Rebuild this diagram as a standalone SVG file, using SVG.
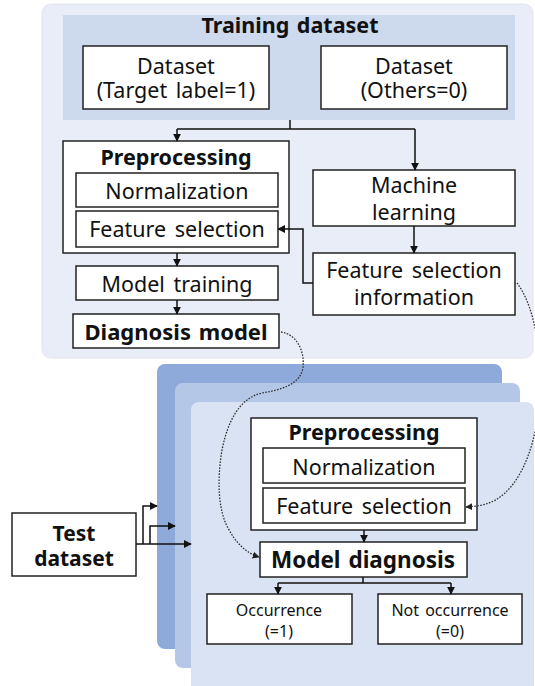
<svg xmlns="http://www.w3.org/2000/svg" width="535" height="686" viewBox="0 0 535 686">
  <defs>
    <marker id="ah" viewBox="0 0 10 10" refX="9" refY="5" markerWidth="8" markerHeight="8" markerUnits="userSpaceOnUse" orient="auto">
      <path d="M0,0 L10,5 L0,10 z" fill="#111"/>
    </marker>
    <marker id="ahs" viewBox="0 0 10 10" refX="9" refY="5" markerWidth="7" markerHeight="7" markerUnits="userSpaceOnUse" orient="auto">
      <path d="M0,0 L10,5 L0,10 z" fill="#222"/>
    </marker>
  </defs>
  <style>
    text { font-family: "Noto Sans", "Open Sans", sans-serif; fill: #111; text-anchor: middle; }
    .t { font-size: 21.5px; word-spacing: 3px; }
    .b { font-size: 21.5px; font-weight: bold; word-spacing: 2px; }
    .s { font-size: 16px; word-spacing: 2px; }
    .box { fill: #fff; stroke: #222; stroke-width: 1.5; }
    .ln { fill: none; stroke: #111; stroke-width: 1.5; }
    .dot { fill: none; stroke: #333; stroke-width: 1.3; stroke-dasharray: 1.6 1.4; }
  </style>

  <!-- training panel -->
  <g id="training-panel">
    <rect x="42" y="4" width="491" height="354" rx="9" fill="#e9edf7" stroke="#dfe4ef" stroke-width="1"/>
  </g>

  <!-- test stack -->
  <g id="test-stack">
    <rect x="157" y="364" width="345" height="285" rx="8" fill="#8eaadb"/>
    <rect x="175" y="383" width="345" height="285" rx="8" fill="#b4c7e7"/>
    <rect x="191" y="402" width="343" height="295" rx="8" fill="#dae3f3"/>
  </g>

  <g id="training-dataset">
    <rect x="63" y="15" width="452" height="105" fill="#cdd9ec"/>
    <text class="b" x="290" y="33">Training dataset</text>
  </g>
  <g id="dataset-target">
    <rect class="box" x="83" y="46" width="186" height="63"/>
    <text class="t" x="176" y="74">Dataset</text>
    <text class="t" x="176" y="98">(Target label=1)</text>
  </g>
  <g id="dataset-others">
    <rect class="box" x="321" y="46" width="186" height="63"/>
    <text class="t" x="414" y="74">Dataset</text>
    <text class="t" x="414" y="98">(Others=0)</text>
  </g>

  <g id="preprocessing-train">
    <rect class="box" x="63" y="141" width="226" height="112"/>
    <text class="b" x="176" y="165">Preprocessing</text>
  </g>
  <g id="normalization-train">
    <rect class="box" x="76" y="173" width="202" height="34"/>
    <text class="t" x="177" y="199">Normalization</text>
  </g>
  <g id="feature-selection-train">
    <rect class="box" x="76" y="211" width="202" height="36"/>
    <text class="t" x="177" y="237">Feature selection</text>
  </g>
  <g id="model-training">
    <rect class="box" x="76" y="266" width="202" height="34"/>
    <text class="t" x="177" y="292">Model training</text>
  </g>
  <g id="diagnosis-model">
    <rect class="box" x="73" y="314" width="206" height="34"/>
    <text class="b" x="176" y="340" style="font-size:22px">Diagnosis model</text>
  </g>
  <g id="machine-learning">
    <rect class="box" x="313" y="170" width="202" height="56"/>
    <text class="t" x="414" y="193">Machine</text>
    <text class="t" x="414" y="220">learning</text>
  </g>
  <g id="feature-selection-info">
    <rect class="box" x="313" y="253" width="202" height="62"/>
    <text class="t" x="414" y="278">Feature selection</text>
    <text class="t" x="414" y="305">information</text>
  </g>

  <g id="preprocessing-test">
    <rect class="box" x="251" y="418" width="226" height="112"/>
    <text class="b" x="364" y="440">Preprocessing</text>
  </g>
  <g id="normalization-test">
    <rect class="box" x="263" y="448" width="202" height="35"/>
    <text class="t" x="364" y="475">Normalization</text>
  </g>
  <g id="feature-selection-test">
    <rect class="box" x="263" y="488" width="202" height="35"/>
    <text class="t" x="364" y="514">Feature selection</text>
  </g>
  <g id="model-diagnosis">
    <rect class="box" x="260" y="542" width="207" height="35"/>
    <text class="b" x="363" y="568" style="font-size:22.5px">Model diagnosis</text>
  </g>
  <g id="occurrence">
    <rect class="box" x="207" y="594" width="145" height="50"/>
    <text class="s" x="279" y="616">Occurrence</text>
    <text class="s" x="279" y="637">(=1)</text>
  </g>
  <g id="not-occurrence">
    <rect class="box" x="378" y="594" width="144" height="50"/>
    <text class="s" x="450" y="616">Not occurrence</text>
    <text class="s" x="450" y="637">(=0)</text>
  </g>
  <g id="test-dataset">
    <rect class="box" x="12" y="513" width="124" height="63"/>
    <text class="b" x="74" y="541" style="font-size:21px">Test</text>
    <text class="b" x="74" y="566" style="font-size:21px">dataset</text>
  </g>

  <!-- connectors -->
  <g id="connectors">
    <path class="ln" d="M290,120 V129"/>
    <path class="ln" d="M177,129 H415"/>
    <path class="ln" d="M177,129 V141" marker-end="url(#ah)"/>
    <path class="ln" d="M415,129 V170" marker-end="url(#ah)"/>
    <path class="ln" d="M414,226 V253" marker-end="url(#ah)"/>
    <path class="ln" d="M313,283 H303 V229 H278" marker-end="url(#ah)"/>
    <path class="ln" d="M177,253 V266" marker-end="url(#ah)"/>
    <path class="ln" d="M177,300 V314" marker-end="url(#ah)"/>

    <path class="ln" d="M364,530 V542" marker-end="url(#ah)"/>
    <path class="ln" d="M363,577 V583"/>
    <path class="ln" d="M278,583 H451"/>
    <path class="ln" d="M278,583 V594" marker-end="url(#ah)"/>
    <path class="ln" d="M451,583 V594" marker-end="url(#ah)"/>

    <path class="ln" d="M136,544 H191" marker-end="url(#ah)"/>
    <path class="ln" d="M150,544 V526 H175" marker-end="url(#ah)"/>
    <path class="ln" d="M143,544 V506 H157" marker-end="url(#ah)"/>

    <path class="dot" d="M281,332 C296,334 305,350 303,368 C300,385 280,390 262,393 C240,398 228,420 222,450 C217,480 218,510 228,528 C236,543 246,553 259,557" marker-end="url(#ahs)"/>
    <path class="dot" d="M517,283 C530,300 538,330 540,370 C542,420 530,470 505,493 C495,502 485,506 466,507" marker-end="url(#ahs)"/>
  </g>
</svg>
